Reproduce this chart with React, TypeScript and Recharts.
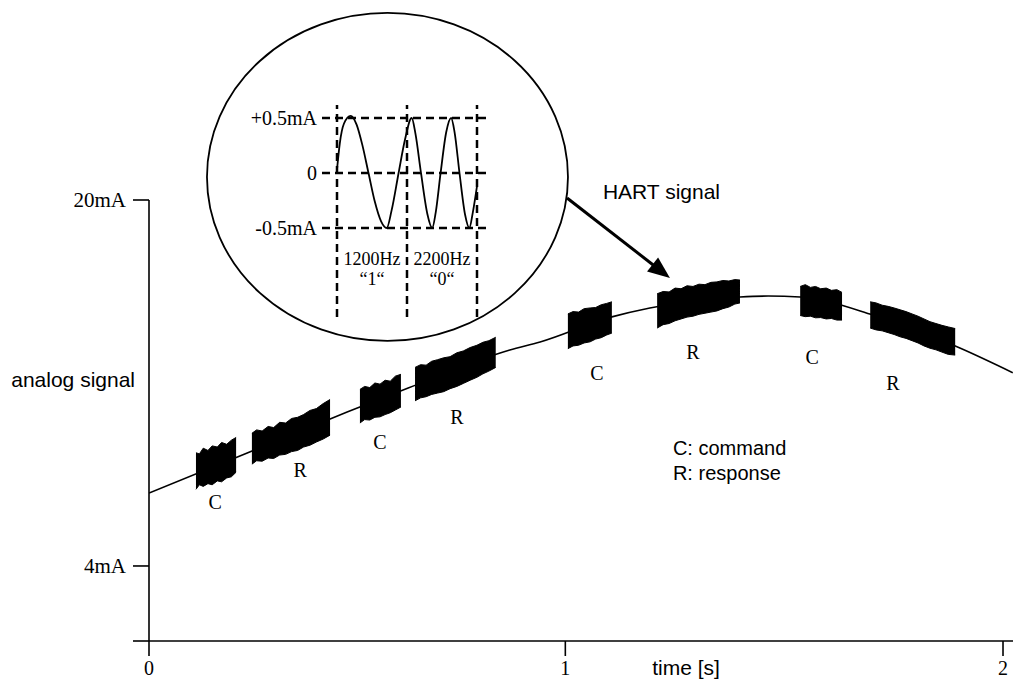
import React from 'react';
import {
  ComposedChart,
  LineChart,
  Line,
  Area,
  XAxis,
  YAxis,
  ReferenceLine,
  ReferenceDot,
} from 'recharts';

const SERIF = "'Liberation Serif', 'Times New Roman', Times, serif";
const SANS = "'Liberation Sans', Arial, Helvetica, sans-serif";

// ---- main chart axes ----
const xTickValues = [0, 0.975, 2];
const xTickLabels = ['0', '1', '2'];
const yTickValues = [0.72, 4, 20];
const yTickLabels = ['', '4mA', '20mA'];

// ---- analog 4-20 mA signal (time [s], mA) ----
const analogCurve = [
  { t: 0, mA: 7.19 },
  { t: 0.23, mA: 8.94 },
  { t: 0.464, mA: 10.73 },
  { t: 0.607, mA: 11.78 },
  { t: 0.845, mA: 13.44 },
  { t: 0.916, mA: 13.79 },
  { t: 1.084, mA: 14.89 },
  { t: 1.173, mA: 15.28 },
  { t: 1.384, mA: 15.76 },
  { t: 1.45, mA: 15.8 },
  { t: 1.525, mA: 15.76 },
  { t: 1.696, mA: 14.97 },
  { t: 1.899, mA: 13.53 },
  { t: 2.023, mA: 12.45 },
];

// ---- HART bursts (envelope lo/hi in mA) ----
const burstC1 = [
  { t: 0.11, lo: 7.35, hi: 8.95 },
  { t: 0.118, lo: 7.55, hi: 8.9 },
  { t: 0.127, lo: 7.48, hi: 9.15 },
  { t: 0.138, lo: 7.6, hi: 9.05 },
  { t: 0.148, lo: 7.55, hi: 9.25 },
  { t: 0.16, lo: 7.72, hi: 9.2 },
  { t: 0.17, lo: 7.68, hi: 9.4 },
  { t: 0.182, lo: 7.85, hi: 9.32 },
  { t: 0.193, lo: 7.9, hi: 9.5 },
  { t: 0.204, lo: 8.1, hi: 9.62 },
];
const burstR1 = [
  { t: 0.241, lo: 8.45, hi: 9.8 },
  { t: 0.252, lo: 8.6, hi: 9.95 },
  { t: 0.265, lo: 8.58, hi: 9.9 },
  { t: 0.279, lo: 8.72, hi: 10.1 },
  { t: 0.292, lo: 8.7, hi: 10.05 },
  { t: 0.306, lo: 8.85, hi: 10.28 },
  { t: 0.32, lo: 8.88, hi: 10.25 },
  { t: 0.334, lo: 9.0, hi: 10.45 },
  { t: 0.348, lo: 9.05, hi: 10.5 },
  { t: 0.362, lo: 9.2, hi: 10.62 },
  { t: 0.377, lo: 9.28, hi: 10.8 },
  { t: 0.392, lo: 9.42, hi: 10.88 },
  { t: 0.408, lo: 9.55, hi: 11.1 },
  { t: 0.424, lo: 9.72, hi: 11.28 },
];
const burstC2 = [
  { t: 0.494, lo: 10.25, hi: 11.72 },
  { t: 0.505, lo: 10.4, hi: 11.85 },
  { t: 0.517, lo: 10.38, hi: 11.8 },
  { t: 0.529, lo: 10.5, hi: 12.0 },
  { t: 0.541, lo: 10.52, hi: 11.95 },
  { t: 0.553, lo: 10.62, hi: 12.12 },
  { t: 0.565, lo: 10.7, hi: 12.08 },
  { t: 0.577, lo: 10.82, hi: 12.3 },
  { t: 0.59, lo: 10.95, hi: 12.38 },
];
const burstR2 = [
  { t: 0.623, lo: 11.22, hi: 12.68 },
  { t: 0.636, lo: 11.35, hi: 12.8 },
  { t: 0.649, lo: 11.4, hi: 12.78 },
  { t: 0.662, lo: 11.5, hi: 12.95 },
  { t: 0.676, lo: 11.56, hi: 13.02 },
  { t: 0.69, lo: 11.62, hi: 13.1 },
  { t: 0.705, lo: 11.75, hi: 13.15 },
  { t: 0.721, lo: 11.85, hi: 13.32 },
  { t: 0.736, lo: 11.98, hi: 13.4 },
  { t: 0.752, lo: 12.12, hi: 13.55 },
  { t: 0.768, lo: 12.25, hi: 13.65 },
  { t: 0.782, lo: 12.4, hi: 13.78 },
  { t: 0.796, lo: 12.52, hi: 13.85 },
  { t: 0.812, lo: 12.68, hi: 14.0 },
];
const burstC3 = [
  { t: 0.981, lo: 13.5, hi: 15.02 },
  { t: 0.993, lo: 13.62, hi: 15.12 },
  { t: 1.006, lo: 13.65, hi: 15.1 },
  { t: 1.019, lo: 13.75, hi: 15.25 },
  { t: 1.033, lo: 13.8, hi: 15.28 },
  { t: 1.046, lo: 13.92, hi: 15.3 },
  { t: 1.059, lo: 13.98, hi: 15.42 },
  { t: 1.072, lo: 14.1, hi: 15.48 },
  { t: 1.084, lo: 14.18, hi: 15.55 },
];
const burstR3 = [
  { t: 1.19, lo: 14.4, hi: 15.9 },
  { t: 1.204, lo: 14.55, hi: 16.0 },
  { t: 1.218, lo: 14.6, hi: 15.98 },
  { t: 1.232, lo: 14.72, hi: 16.15 },
  { t: 1.246, lo: 14.8, hi: 16.12 },
  { t: 1.26, lo: 14.88, hi: 16.25 },
  { t: 1.274, lo: 14.92, hi: 16.22 },
  { t: 1.288, lo: 15.0, hi: 16.32 },
  { t: 1.302, lo: 15.05, hi: 16.3 },
  { t: 1.316, lo: 15.1, hi: 16.4 },
  { t: 1.33, lo: 15.15, hi: 16.42 },
  { t: 1.344, lo: 15.25, hi: 16.48 },
  { t: 1.358, lo: 15.32, hi: 16.46 },
  { t: 1.372, lo: 15.45, hi: 16.52 },
  { t: 1.384, lo: 15.5, hi: 16.5 },
];
const burstC4 = [
  { t: 1.525, lo: 14.95, hi: 16.22 },
  { t: 1.537, lo: 14.9, hi: 16.3 },
  { t: 1.549, lo: 14.92, hi: 16.18 },
  { t: 1.561, lo: 14.85, hi: 16.22 },
  { t: 1.573, lo: 14.86, hi: 16.12 },
  { t: 1.586, lo: 14.8, hi: 16.15 },
  { t: 1.598, lo: 14.82, hi: 16.05 },
  { t: 1.611, lo: 14.75, hi: 16.08 },
  { t: 1.623, lo: 14.75, hi: 15.96 },
];
const burstR4 = [
  { t: 1.689, lo: 14.4, hi: 15.55 },
  { t: 1.703, lo: 14.32, hi: 15.5 },
  { t: 1.717, lo: 14.28, hi: 15.4 },
  { t: 1.731, lo: 14.2, hi: 15.35 },
  { t: 1.745, lo: 14.12, hi: 15.28 },
  { t: 1.759, lo: 14.02, hi: 15.2 },
  { t: 1.773, lo: 13.95, hi: 15.12 },
  { t: 1.787, lo: 13.85, hi: 15.02 },
  { t: 1.801, lo: 13.75, hi: 14.92 },
  { t: 1.815, lo: 13.62, hi: 14.8 },
  { t: 1.829, lo: 13.52, hi: 14.68 },
  { t: 1.843, lo: 13.45, hi: 14.6 },
  { t: 1.857, lo: 13.35, hi: 14.52 },
  { t: 1.872, lo: 13.25, hi: 14.45 },
  { t: 1.888, lo: 13.22, hi: 14.38 },
];
const bursts = [burstC1, burstR1, burstC2, burstR2, burstC3, burstR3, burstC4, burstR4];

// burst labels: C = command, R = response
const burstLabels = [
  { t: 0.155, mA: 6.8, text: 'C' },
  { t: 0.354, mA: 8.2, text: 'R' },
  { t: 0.541, mA: 9.42, text: 'C' },
  { t: 0.721, mA: 10.51, text: 'R' },
  { t: 1.049, mA: 12.44, text: 'C' },
  { t: 1.274, mA: 13.36, text: 'R' },
  { t: 1.553, mA: 13.14, text: 'C' },
  { t: 1.742, mA: 12.0, text: 'R' },
];

const legendLines = [
  { t: 1.227, mA: 9.16, text: 'C: command' },
  { t: 1.227, mA: 8.07, text: 'R: response' },
];

const arrowSegment = [
  { t: 0.979, mA: 20.09 },
  { t: 1.22, mA: 16.59 },
];

// ---- inset: FSK signal (bit period units, mA) ----
const insetYTicks = [-0.5, 0, 0.5];
const insetYLabels = ['-0.5mA', '0', '+0.5mA'];
const insetBitBounds = [0, 1, 2];
const insetWave = [
  { b: 0, mA: 0.03 },
  { b: 0.04, mA: 0.27 },
  { b: 0.1, mA: 0.45 },
  { b: 0.195, mA: 0.52 },
  { b: 0.28, mA: 0.44 },
  { b: 0.36, mA: 0.26 },
  { b: 0.45, mA: 0.0 },
  { b: 0.54, mA: -0.26 },
  { b: 0.63, mA: -0.44 },
  { b: 0.71, mA: -0.5 },
  { b: 0.78, mA: -0.34 },
  { b: 0.88, mA: 0.0 },
  { b: 0.97, mA: 0.3 },
  { b: 1.067, mA: 0.5 },
  { b: 1.12, mA: 0.36 },
  { b: 1.2, mA: 0.0 },
  { b: 1.29, mA: -0.37 },
  { b: 1.36, mA: -0.5 },
  { b: 1.41, mA: -0.36 },
  { b: 1.48, mA: 0.0 },
  { b: 1.56, mA: 0.37 },
  { b: 1.63, mA: 0.5 },
  { b: 1.68, mA: 0.37 },
  { b: 1.75, mA: 0.0 },
  { b: 1.83, mA: -0.38 },
  { b: 1.89, mA: -0.5 },
  { b: 1.94, mA: -0.36 },
  { b: 2.0, mA: -0.12 },
];
const insetBitLabels = [
  { b: 0.5, mA: -0.777, text: '1200Hz' },
  { b: 0.5, mA: -0.964, text: '\u201C1\u201C' },
  { b: 1.5, mA: -0.777, text: '2200Hz' },
  { b: 1.5, mA: -0.964, text: '\u201C0\u201C' },
];
const insetCenter = { b: 0.721, mA: -0.036 };

const ArrowShape = (props: any) => {
  const { x1, y1, x2, y2 } = props;
  if ([x1, y1, x2, y2].some((v) => typeof v !== 'number' || isNaN(v))) return null;
  const dx = x2 - x1;
  const dy = y2 - y1;
  const len = Math.hypot(dx, dy) || 1;
  const ux = dx / len;
  const uy = dy / len;
  const headLen = 22;
  const headHalf = 9;
  const bx = x2 - ux * headLen;
  const by = y2 - uy * headLen;
  const px = -uy;
  const py = ux;
  return (
    <g>
      <line x1={x1} y1={y1} x2={bx + ux * 2} y2={by + uy * 2} stroke="#000" strokeWidth={3} />
      <polygon
        points={`${x2},${y2} ${bx + px * headHalf},${by + py * headHalf} ${bx - px * headHalf},${by - py * headHalf}`}
        fill="#000"
      />
    </g>
  );
};

const EllipseShape = (props: any) => {
  const { cx, cy } = props;
  if (typeof cx !== 'number' || typeof cy !== 'number') return null;
  return <ellipse cx={cx} cy={cy} rx={180.5} ry={164} fill="none" stroke="#000" strokeWidth={1.8} />;
};

const lbl = (value: string, position: any, family: string, size: number, offset = 0) => ({
  value,
  position,
  offset,
  fontFamily: family,
  fontSize: size,
  fill: '#000',
});

export default function App() {
  return (
    <div style={{ position: 'absolute', left: 0, top: 0, width: 1013, height: 681, background: '#fff' }}>
      <div style={{ position: 'absolute', left: 0, top: 0 }}>
        <ComposedChart
          width={1013}
          height={681}
          margin={{ top: 200, right: 0, bottom: 0, left: 0 }}
          style={{ fontFamily: SERIF }}
        >
          <XAxis
            dataKey="t"
            type="number"
            domain={[0, 2.0234]}
            allowDataOverflow
            ticks={xTickValues}
            interval={0}
            tickFormatter={(v: number) => xTickLabels[xTickValues.indexOf(v)] ?? ''}
            height={40}
            stroke="#000"
            axisLine={{ stroke: '#000', strokeWidth: 1.6 }}
            tickLine={{ stroke: '#000', strokeWidth: 1.6 }}
            tickSize={15}
            tickMargin={5}
            tick={{ fontFamily: SERIF, fontSize: 20, fill: '#000' }}
            label={{
              value: 'time [s]',
              position: 'insideBottom',
              offset: 6,
              dx: 105,
              fontFamily: SANS,
              fontSize: 21,
              fill: '#000',
            }}
          />
          <YAxis
            type="number"
            domain={[0.72, 20]}
            allowDataOverflow
            ticks={yTickValues}
            interval={0}
            tickFormatter={(v: number) => yTickLabels[yTickValues.indexOf(v)] ?? ''}
            width={149}
            stroke="#000"
            axisLine={{ stroke: '#000', strokeWidth: 1.6 }}
            tickLine={{ stroke: '#000', strokeWidth: 1.6 }}
            tickSize={16}
            tickMargin={7}
            tick={{ fontFamily: SERIF, fontSize: 21, fill: '#000' }}
          />
          {bursts.map((b, i) => (
            <Area
              key={`burst-${i}`}
              data={b}
              dataKey={(d: any) => [d.lo, d.hi]}
              type="linear"
              stroke="#000"
              strokeWidth={1}
              fill="#000"
              fillOpacity={1}
              isAnimationActive={false}
              activeDot={false}
              dot={false}
            />
          ))}
          <Line
            data={analogCurve}
            dataKey="mA"
            type="monotone"
            stroke="#000"
            strokeWidth={1.6}
            dot={false}
            activeDot={false}
            isAnimationActive={false}
          />
          <ReferenceLine
            segment={[
              { x: arrowSegment[0].t, y: arrowSegment[0].mA },
              { x: arrowSegment[1].t, y: arrowSegment[1].mA },
            ]}
            ifOverflow="visible"
            shape={ArrowShape}
          />
          {burstLabels.map((l, i) => (
            <ReferenceDot
              key={`bl-${i}`}
              x={l.t}
              y={l.mA}
              r={0}
              fill="none"
              stroke="none"
              label={lbl(l.text, 'center', SERIF, 20)}
            />
          ))}
          {legendLines.map((l, i) => (
            <ReferenceDot
              key={`lg-${i}`}
              x={l.t}
              y={l.mA}
              r={0}
              fill="none"
              stroke="none"
              label={lbl(l.text, 'right', SANS, 20)}
            />
          ))}
          <ReferenceDot
            x={1.063}
            y={20.35}
            r={0}
            fill="none"
            stroke="none"
            ifOverflow="visible"
            label={lbl('HART signal', 'right', SANS, 21)}
          />
          <ReferenceDot
            x={0}
            y={12.13}
            r={0}
            fill="none"
            stroke="none"
            ifOverflow="visible"
            label={lbl('analog signal', 'left', SANS, 21, 14)}
          />
        </ComposedChart>
      </div>
      <div style={{ position: 'absolute', left: 0, top: 0 }}>
        <LineChart
          width={1013}
          height={681}
          data={insetWave}
          margin={{ top: 105, right: 526, bottom: 364, left: 262 }}
          style={{ fontFamily: SERIF }}
        >
          <XAxis dataKey="b" type="number" domain={[-0.2143, 2.1429]} allowDataOverflow hide />
          <YAxis
            type="number"
            domain={[-1.309, 0.618]}
            allowDataOverflow
            ticks={insetYTicks}
            interval={0}
            tickFormatter={(v: number) => insetYLabels[insetYTicks.indexOf(v)] ?? ''}
            width={60}
            axisLine={false}
            tickLine={false}
            tickSize={3}
            tickMargin={2}
            tick={{ fontFamily: SERIF, fontSize: 20, fill: '#000' }}
          />
          <ReferenceDot
            x={insetCenter.b}
            y={insetCenter.mA}
            r={1}
            ifOverflow="visible"
            shape={EllipseShape}
          />
          {insetBitBounds.map((b) => (
            <ReferenceLine key={`vb-${b}`} x={b} stroke="#000" strokeWidth={2.5} strokeDasharray="8 5" />
          ))}
          {insetYTicks.map((v) => (
            <ReferenceLine key={`hl-${v}`} y={v} stroke="#000" strokeWidth={2.5} strokeDasharray="8 5" />
          ))}
          <Line
            dataKey="mA"
            type="monotone"
            stroke="#000"
            strokeWidth={1.8}
            dot={false}
            activeDot={false}
            isAnimationActive={false}
          />
          {insetBitLabels.map((l, i) => (
            <ReferenceDot
              key={`ib-${i}`}
              x={l.b}
              y={l.mA}
              r={0}
              fill="none"
              stroke="none"
              label={lbl(l.text, 'center', SERIF, 18)}
            />
          ))}
        </LineChart>
      </div>
    </div>
  );
}
